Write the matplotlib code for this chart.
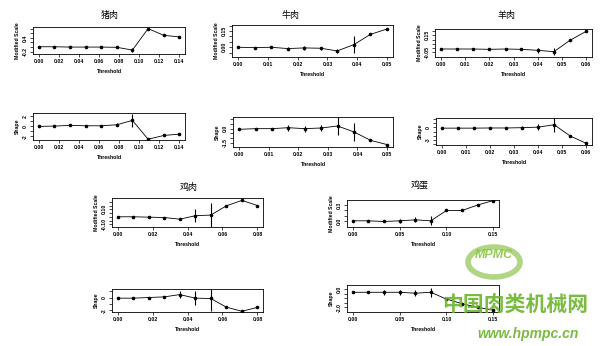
import matplotlib
matplotlib.use("Agg")
import matplotlib.pyplot as plt
from matplotlib.patches import Circle

plt.rcParams["font.family"] = ["Liberation Sans", "DejaVu Sans"]

# ---- data ----------------------------------------------------------------
titles = ["猪肉", "牛肉", "羊肉", "鸡肉", "鸡蛋"]

thr_pork = [0.0, 0.0156, 0.0311, 0.0467, 0.0622, 0.0778, 0.0933, 0.1089, 0.1244, 0.14]
thr_beef = [0.0, 0.0056, 0.0111, 0.0167, 0.0222, 0.0278, 0.0333, 0.0389, 0.0444, 0.05]
thr_lamb = [0.0, 0.0067, 0.0133, 0.02, 0.0267, 0.0333, 0.04, 0.0467, 0.0533, 0.06]
thr_chick = [0.0, 0.0089, 0.0178, 0.0267, 0.0356, 0.0444, 0.0533, 0.0622, 0.0711, 0.08]
thr_egg = [0.0, 0.0167, 0.0333, 0.05, 0.0667, 0.0833, 0.1, 0.1167, 0.1333, 0.15]

ms_pork = [0.014, 0.014, 0.0, 0.0, 0.0, -0.01, -0.13, 0.80, 0.51, 0.44]
ms_pork_err = [0.02, 0.02, 0.02, 0.02, 0.02, 0.03, 0.10, 0.02, 0.02, 0.02]
sh_pork = [0.0, 0.07, 0.2, 0.13, 0.13, 0.33, 1.2, -2.55, -1.8, -1.53]
sh_pork_err = [0.1, 0.1, 0.15, 0.15, 0.2, 0.3, 1.3, 0.1, 0.1, 0.1]

ms_beef = [0.0, -0.003, 0.0, -0.012, -0.006, -0.009, -0.034, 0.025, 0.119, 0.169]
ms_beef_err = [0.01, 0.01, 0.01, 0.01, 0.015, 0.015, 0.02, 0.08, 0.01, 0.01]
sh_beef = [-0.07, 0.0, 0.0, 0.1, 0.0, 0.07, 0.28, -0.35, -1.22, -1.67]
sh_beef_err = [0.05, 0.1, 0.1, 0.3, 0.3, 0.35, 0.9, 0.9, 0.05, 0.05]

ms_lamb = [-0.014, -0.014, -0.014, -0.018, -0.014, -0.018, -0.03, -0.046, 0.09, 0.198]
ms_lamb_err = [0.005, 0.005, 0.005, 0.006, 0.008, 0.01, 0.03, 0.04, 0.005, 0.005]
sh_lamb = [-0.16, -0.16, -0.16, -0.12, -0.12, -0.05, 0.08, 0.65, -2.03, -3.8]
sh_lamb_err = [0.1, 0.1, 0.1, 0.2, 0.3, 0.4, 0.8, 1.7, 0.1, 0.1]

ms_chick = [0.0, 0.0, -0.005, -0.01, -0.032, 0.014, 0.023, 0.145, 0.218, 0.15]
ms_chick_err = [0.005, 0.005, 0.005, 0.008, 0.01, 0.085, 0.155, 0.005, 0.005, 0.005]
sh_chick = [-0.1, -0.1, 0.0, 0.1, 0.46, -0.1, -0.15, -1.5, -2.15, -1.54]
sh_chick_err = [0.05, 0.05, 0.1, 0.2, 0.5, 1.1, 2.0, 0.1, 0.1, 0.1]

ms_egg = [0.012, 0.012, 0.0, 0.012, 0.03, 0.012, 0.2, 0.2, 0.3, 0.38]
ms_egg_err = [0.01, 0.01, 0.01, 0.04, 0.045, 0.08, 0.01, 0.01, 0.01, 0.01]
sh_egg = [-0.36, -0.36, -0.36, -0.36, -0.46, -0.36, -1.1, -1.6, -2.0, -2.3]
sh_egg_err = [0.05, 0.1, 0.25, 0.3, 0.35, 0.5, 0.1, 0.1, 0.1, 0.1]

xticks_pork = [0.0, 0.02, 0.04, 0.06, 0.08, 0.10, 0.12, 0.14]
xticks_beef = [0.0, 0.01, 0.02, 0.03, 0.04, 0.05]
xticks_lamb = [0.0, 0.01, 0.02, 0.03, 0.04, 0.05, 0.06]
xticks_chick = [0.0, 0.02, 0.04, 0.06, 0.08]
xticks_egg = [0.0, 0.05, 0.10, 0.15]

# y ticks and the labels R kept (others dropped for overlap)
yt_ms_pork, yl_ms_pork = [-0.2, 0.0, 0.2, 0.4, 0.6, 0.8], ["-0.2", "", "", "0.4", "", ""]
yt_sh_pork, yl_sh_pork = [-2, -1, 0, 1, 2], ["-2", "", "0", "", "2"]
yt_ms_beef, yl_ms_beef = [-0.05, 0.0, 0.05, 0.10, 0.15, 0.20], ["", "0.00", "", "", "0.15", ""]
yt_sh_beef, yl_sh_beef = [-1.5, -1.0, -0.5, 0.0, 0.5, 1.0], ["-1.5", "", "", "0.0", "", ""]
yt_ms_lamb, yl_ms_lamb = [-0.05, 0.0, 0.05, 0.10, 0.15, 0.20], ["-0.05", "", "", "", "0.15", ""]
yt_sh_lamb, yl_sh_lamb = [-4, -3, -2, -1, 0, 1, 2], ["", "-3", "", "", "0", "", ""]
yt_ms_chick, yl_ms_chick = [-0.10, -0.05, 0.0, 0.05, 0.10, 0.15, 0.20], ["-0.10", "", "", "", "0.10", "", ""]
yt_sh_chick, yl_sh_chick = [-2, -1, 0, 1], ["-2", "", "0", ""]
yt_ms_egg, yl_ms_egg = [0.0, 0.1, 0.2, 0.3], ["0.0", "", "", "0.3"]
yt_sh_egg, yl_sh_egg = [-2.0, -1.5, -1.0, -0.5, 0.0], ["-2.0", "", "", "", "0.0"]

W, H = 600, 346
SMALL = 3.7


def px_axes(fig, x0, y0, x1, y1):
    return fig.add_axes([x0 / W, 1 - y1 / H, (x1 - x0) / W, (y1 - y0) / H])


def panel(ax, x, y, err, xticks, yt, yl, ylim, ylabel):
    # R pads the data range by 4 % on each side
    pad = 0.04 * (max(x) - min(x))
    ax.set_xlim(min(x) - pad, max(x) + pad)
    ax.set_ylim(*ylim)
    ax.plot(x, y, color="black", lw=0.6, marker="o", ms=1.6, zorder=3)
    lo = [v - e for v, e in zip(y, err)]
    hi = [v + e for v, e in zip(y, err)]
    ax.vlines(x, lo, hi, color="black", lw=0.8, zorder=3)
    ax.set_xticks(xticks)
    ax.set_xticklabels([f"{t:.2f}" for t in xticks])
    ax.set_yticks(yt)
    ax.set_yticklabels(yl)
    for lab in ax.get_yticklabels():
        lab.set_rotation(90)
        lab.set_va("center")
    ax.tick_params(direction="out", length=2, width=0.5, pad=1.5,
                   labelsize=SMALL)
    for lab in ax.get_xticklabels() + ax.get_yticklabels():
        lab.set_fontweight("bold")
    for s in ax.spines.values():
        s.set_linewidth(0.6)
    ax.set_xlabel("Threshold", fontsize=SMALL, fontweight="bold", labelpad=4)
    ax.set_ylabel(ylabel, fontsize=SMALL, fontweight="bold", labelpad=2)


fig = plt.figure(figsize=(6.0, 3.46), dpi=100)
fig.patch.set_facecolor("white")

specs = [
    # title, title pos, ms box, sh box, data
    (titles[0], (110, 15), (33, 27, 185, 54), (33, 113, 185, 140),
     thr_pork, ms_pork, ms_pork_err, sh_pork, sh_pork_err, xticks_pork,
     (yt_ms_pork, yl_ms_pork, (-0.3, 0.87)), (yt_sh_pork, yl_sh_pork, (-2.7, 2.67))),
    (titles[1], (291, 15), (232, 25, 393, 57), (233, 117, 393, 147),
     thr_beef, ms_beef, ms_beef_err, sh_beef, sh_beef_err, xticks_beef,
     (yt_ms_beef, yl_ms_beef, (-0.09, 0.206)), (yt_sh_beef, yl_sh_beef, (-1.92, 1.22))),
    (titles[2], (507, 15), (435, 29, 592, 57), (436, 118, 592, 145),
     thr_lamb, ms_lamb, ms_lamb_err, sh_lamb, sh_lamb_err, xticks_lamb,
     (yt_ms_lamb, yl_ms_lamb, (-0.11, 0.226)), (yt_sh_lamb, yl_sh_lamb, (-4.2, 2.27))),
    (titles[3], (189, 187), (112, 198, 263, 227), (112, 289, 263, 312),
     thr_chick, ms_chick, ms_chick_err, sh_chick, sh_chick_err, xticks_chick,
     (yt_ms_chick, yl_ms_chick, (-0.136, 0.25)), (yt_sh_chick, yl_sh_chick, (-2.26, 1.33))),
    (titles[4], (420, 186), (347, 200, 499, 227), (347, 285, 499, 312),
     thr_egg, ms_egg, ms_egg_err, sh_egg, sh_egg_err, xticks_egg,
     (yt_ms_egg, yl_ms_egg, (-0.1, 0.39)), (yt_sh_egg, yl_sh_egg, (-2.5, 0.43))),
]

for (title, tpos, box_ms, box_sh, thr, ms, ms_err, sh, sh_err, xt,
     ms_ax, sh_ax) in specs:
    ax1 = px_axes(fig, *box_ms)
    panel(ax1, thr, ms, ms_err, xt, ms_ax[0], ms_ax[1], ms_ax[2], "Modified Scale")
    ax2 = px_axes(fig, *box_sh)
    panel(ax2, thr, sh, sh_err, xt, sh_ax[0], sh_ax[1], sh_ax[2], "Shape")
    fig.text(tpos[0] / W, 1 - tpos[1] / H, title, ha="center", va="center",
             fontsize=6.5, family=["Noto Sans CJK SC", "DejaVu Sans"])

# watermark of the source site
green = "#6cb42c"
fig.patches.append(Circle((494 / W, 1 - 262 / H), 26 / W, transform=fig.transFigure,
                          facecolor="none", edgecolor="#9ccc65", lw=4, alpha=0.8))
fig.text(494 / W, 1 - 255 / H, "MPMC", ha="center", va="center", fontsize=9,
         fontweight="bold", fontstyle="italic", color="#8cc63f", alpha=0.9)
fig.text(515 / W, 1 - 305 / H, "中国肉类机械网", ha="center", va="center",
         fontsize=15, fontweight="bold", color=green, alpha=0.9,
         family=["Noto Sans CJK SC", "DejaVu Sans"])
fig.text(528 / W, 1 - 334 / H, "www.hpmpc.cn", ha="center", va="center",
         fontsize=10, fontweight="bold", fontstyle="italic", color=green, alpha=0.9)

fig.savefig("out.png", dpi=100)
